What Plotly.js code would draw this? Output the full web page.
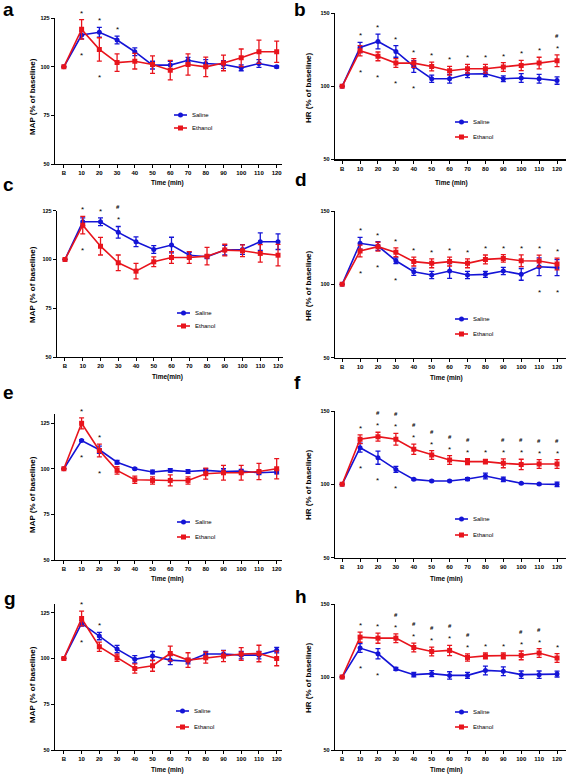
<!DOCTYPE html>
<html><head><meta charset="utf-8">
<script src="https://cdn.plot.ly/plotly-3.0.1.min.js"></script>
<style>html,body{margin:0;padding:0;background:#fff}#chart{width:567px;height:774px}</style>
</head><body><div id="chart"></div>
<script>
// ---------- shared categories ----------
const timeIdx = [0,1,2,3,4,5,6,7,8,9,10,11,12];
const timeLabels = ['B','10','20','30','40','50','60','70','80','90','100','110','120'];
const mapTicks = [50,75,100,125];
const hrTicks = [50,100,150];

// ---------- panel a (MAP) ----------
const salineA     = [100,116.4,117.8,113.8,107.8,100.9,100.9,103.4,101.7,101.2,99.5,101.7,100];
const salineErrA  = [0,2,2.5,2,2,2,2,1.5,2,2,1.5,2,0.5];
const ethanolA    = [100,119.3,109,102.2,102.9,101.2,98.3,101.2,100,102,104.7,107.8,107.8];
const ethanolErrA = [0,5,6,4.5,4,4.5,5,5.5,5,4,4.5,6,5.5];
const starsUpA = [1,2,3], starsDownA = [1,2], hashA = [];

// ---------- panel b (HR) ----------
const salineB     = [100,126.6,130.7,123.9,113.6,105.2,105.2,108.4,108.6,105.2,105.7,105.2,103.9];
const salineErrB  = [0,3.5,5,4,4,2.5,3,2.5,2,2,3,3,2.5];
const ethanolB    = [100,124.3,120.5,115.9,115.9,113.6,110.7,112,112,113.2,114.3,115.9,117.5];
const ethanolErrB = [0,3.5,3,3,3,3,3,3,3,3,3.5,4,4];
const starsUpB = [1,2,3,4,5,6,7,8,9,10,11,12], starsDownB = [1,2,3,4], hashB = [12];

// ---------- panel c (MAP) ----------
const salineC     = [100,119.3,119.3,113.9,109.1,105.1,107.4,102.2,101.4,104.8,105.1,109.1,109.1];
const salineErrC  = [0,2,2,3,2.5,2,4,1.5,1,2.5,2.5,4.5,4];
const ethanolC    = [100,117.6,106.8,98.3,94,98.8,101,101,101.7,104.8,104.5,103.1,102.2];
const ethanolErrC = [0,4.5,4.5,4,4,2.5,3,3,4.5,3,3,4.5,5.5];
const starsUpC = [1,2,3], starsDownC = [1], hashC = [3];

// ---------- panel d (HR) ----------
const salineD     = [100,128,126.1,116.1,108.6,106.4,109.1,106.4,106.8,109.1,106.8,112,111.4];
const salineErrD  = [0,4,3,2,2.5,2.5,5,2.5,2,2.5,4,6,5.5];
const ethanolD    = [100,122.7,125.7,121.8,115.5,114.3,115.5,114.3,117,117.7,116.1,115.9,113.9];
const ethanolErrD = [0,4,3,3,3,3,3,3,3,2.5,4,4,4];
const starsUpD = [1,2,3,4,5,6,7,8,9,10,11,12], starsDownD = [1,2,3,11,12], hashD = [];

// ---------- panel e (MAP) ----------
const salineE     = [100,115.5,110.4,103.6,100,98.2,99.1,98.5,99.1,98.5,98.7,97.8,98.2];
const salineErrE  = [0,0.5,2,1,0.5,1,1,1,1,1.5,1,1,1];
const ethanolE    = [100,124.9,110,99.1,94,93.6,93.6,93.6,97.3,97.8,97.8,98.5,100];
const ethanolErrE = [0,3,3.5,2,2,2,3,2,3,4,4,4.5,5.5];
const starsUpE = [1,2], starsDownE = [1,2], hashE = [];

// ---------- panel f (HR) ----------
const salineF     = [100,125,118.2,110.2,103.4,102.3,102.3,103.6,105.7,103.4,100.7,100.2,100];
const salineErrF  = [0,3,4.5,2,0.5,0.5,0.5,1,2,1.5,0.5,0.5,1.5];
const ethanolF    = [100,130.7,132.5,130.7,123.9,120,116.6,115.5,115.5,114.3,113.6,113.9,113.9];
const ethanolErrF = [0,3,3,4,3.5,3,3,2,1.5,3,3.5,3,3];
const starsUpF = [1,2,3,4,5,6,7,8,9,10,11,12], starsDownF = [1,2,3], hashF = [2,3,4,5,6,7,9,10,11,12];

// ---------- panel g (MAP) ----------
const salineG     = [100,119.1,112.2,105.1,99.5,101.3,99.1,98.5,102.4,102.4,101.8,101.8,104.5];
const salineErrG  = [0,1.5,2,2,2,2.5,2.5,1.5,1.5,2,2,2,1.5];
const ethanolG    = [100,121.8,106.4,100.4,94.5,96,102.7,99.1,100.4,101.3,102.4,102.7,100];
const ethanolErrG = [0,4,2.5,2,2.5,3,4,4,3,3,3.5,4.5,4];
const starsUpG = [1,2], starsDownG = [1], hashG = [];

// ---------- panel h (HR) ----------
const salineH     = [100,119.8,115.9,105.5,101.6,102.3,101.1,101.1,104.5,103.9,101.6,101.6,102];
const salineErrH  = [0,3,3.5,1,1.5,2,2.5,2,3,3,2.5,2.5,2];
const ethanolH    = [100,127.3,126.6,126.6,120.2,117.5,118.2,113.4,114.5,114.5,114.8,116.4,113];
const ethanolErrH = [0,3.5,3.5,3,3,3,3.5,2.5,2,2,3,3,3];
const starsUpH = [1,2,3,4,5,6,7,8,9,10,11,12], starsDownH = [1,2], hashH = [3,4,5,6,7,10,11];

const seriesNames = ['Saline','Ethanol'];
const mapTitle = 'MAP (% of baseline)';
const hrTitle = 'HR (% of baseline)';

// ---------- assembly ----------
const panels = [
  {letter:'a', s:salineA, se:salineErrA, e:ethanolA, ee:ethanolErrA, up:starsUpA, down:starsDownA, hash:hashA, ytitle:mapTitle, ticks:mapTicks, xtitle:'Time (min)'},
  {letter:'b', s:salineB, se:salineErrB, e:ethanolB, ee:ethanolErrB, up:starsUpB, down:starsDownB, hash:hashB, ytitle:hrTitle, ticks:hrTicks, xtitle:'Time (min)'},
  {letter:'c', s:salineC, se:salineErrC, e:ethanolC, ee:ethanolErrC, up:starsUpC, down:starsDownC, hash:hashC, ytitle:mapTitle, ticks:mapTicks, xtitle:'Time(min)'},
  {letter:'d', s:salineD, se:salineErrD, e:ethanolD, ee:ethanolErrD, up:starsUpD, down:starsDownD, hash:hashD, ytitle:hrTitle, ticks:hrTicks, xtitle:'Time (min)'},
  {letter:'e', s:salineE, se:salineErrE, e:ethanolE, ee:ethanolErrE, up:starsUpE, down:starsDownE, hash:hashE, ytitle:mapTitle, ticks:mapTicks, xtitle:'Time (min)'},
  {letter:'f', s:salineF, se:salineErrF, e:ethanolF, ee:ethanolErrF, up:starsUpF, down:starsDownF, hash:hashF, ytitle:hrTitle, ticks:hrTicks, xtitle:'Time (min)'},
  {letter:'g', s:salineG, se:salineErrG, e:ethanolG, ee:ethanolErrG, up:starsUpG, down:starsDownG, hash:hashG, ytitle:mapTitle, ticks:mapTicks, xtitle:'Time (min)'},
  {letter:'h', s:salineH, se:salineErrH, e:ethanolH, ee:ethanolErrH, up:starsUpH, down:starsDownH, hash:hashH, ytitle:hrTitle, ticks:hrTicks, xtitle:'Time (min)'}
];

// frame geometry in page pixels; leg = [line start x, saline row y, ethanol row y]
const W = 567, H = 774;
const frames = [
  {x:[55,282],  y:[18.3,164], yr:[50,125], xr:[-0.5,12.3],  leg:[174,115,128], yt:[32,97],  xt:[167,183], lt:[1,10]},
  {x:[335,566], y:[13.3,159.3], yr:[50,150], xr:[-0.4,12.5], leg:[455,122,137], yt:[308,88], xt:[451,183], lt:[292,9]},
  {x:[57,283],  y:[210.7,357], yr:[50,125], xr:[-0.45,12.28], leg:[177,313,326], yt:[32,285], xt:[167,377], lt:[1,184]},
  {x:[335,566], y:[211,357.7], yr:[50,150], xr:[-0.4,12.5], leg:[455,319,334], yt:[308,286], xt:[446,378], lt:[293,180]},
  {x:[55,282],  y:[414,560],  yr:[50,130], xr:[-0.5,12.3],  leg:[177,522,537], yt:[32,495], xt:[167,579], lt:[1,392]},
  {x:[335,566], y:[411,557.7], yr:[50,150], xr:[-0.4,12.5], leg:[455,519,535], yt:[308,485], xt:[446,579], lt:[292,382]},
  {x:[55,282],  y:[603.5,750], yr:[50,130], xr:[-0.5,12.3], leg:[176,711,727], yt:[32,685], xt:[167,770], lt:[2,598]},
  {x:[335,566], y:[604,750],  yr:[50,150], xr:[-0.4,12.5], leg:[455,712,727], yt:[308,678], xt:[446,770], lt:[293,596]}
];

const BLUE = '#1414d6', RED = '#e8141c';
const FONT = 'Liberation Sans, Arial, sans-serif';
const px = v => v / W, py = v => 1 - v / H;

const traces = [], annotations = [], shapes = [];
const layout = {
  width: W, height: H, margin:{l:0,r:0,t:0,b:0},
  paper_bgcolor:'#fff', plot_bgcolor:'rgba(0,0,0,0)',
  font:{family:FONT, color:'#000'},
  showlegend:false, annotations, shapes
};

panels.forEach((p, i) => {
  const f = frames[i];
  const sfx = i === 0 ? '' : String(i + 1);
  const xa = 'x' + sfx, ya = 'y' + sfx;
  layout['xaxis' + sfx] = {
    domain:[px(f.x[0]), px(f.x[1])], range:f.xr, anchor:ya,
    tickmode:'array', tickvals:timeIdx, ticktext:timeLabels,
    showline:true, linecolor:'#000', linewidth:1.2, ticks:'outside', ticklen:3, tickwidth:1, tickcolor:'#000',
    tickfont:{size:6, family:FONT, weight:'bold'}, showgrid:false, zeroline:false, fixedrange:true
  };
  layout['yaxis' + sfx] = {
    domain:[py(f.y[1]), py(f.y[0])], range:f.yr, anchor:xa,
    tickmode:'array', tickvals:p.ticks,
    showline:true, linecolor:'#000', linewidth:1.2, ticks:'outside', ticklen:3, tickwidth:1, tickcolor:'#000',
    tickfont:{size:5.5, family:FONT, weight:'bold'}, showgrid:false, zeroline:false, fixedrange:true
  };
  const specs = [[p.s, p.se, BLUE, 'circle', seriesNames[0], f.leg[1]], [p.e, p.ee, RED, 'square', seriesNames[1], f.leg[2]]];
  specs.forEach(([vals, errs, col, sym, nm, ly]) => {
    traces.push({
      type:'scatter', mode:'lines+markers', name:nm, x:timeIdx, y:vals,
      xaxis:xa, yaxis:ya,
      line:{color:col, width:1.6}, marker:{color:col, symbol:sym, size:5},
      error_y:{type:'data', array:errs, visible:true, color:col, thickness:1.3, width:2.5}
    });
    // legend entry (line + marker + label)
    const x0 = f.leg[0], x1 = f.leg[0] + 13, xm = (x0 + x1) / 2;
    shapes.push({type:'line', xref:'paper', yref:'paper', x0:px(x0), x1:px(x1), y0:py(ly), y1:py(ly), line:{color:col, width:1.6}});
    shapes.push({type: sym === 'circle' ? 'circle' : 'rect', xref:'paper', yref:'paper',
      x0:px(xm - 2.5), x1:px(xm + 2.5), y0:py(ly + 2.5), y1:py(ly - 2.5), fillcolor:col, line:{color:col, width:0}});
    annotations.push({xref:'paper', yref:'paper', x:px(x1 + 3), y:py(ly), text:nm, showarrow:false, xanchor:'left', yanchor:'middle', font:{size:6, family:FONT}});
  });
  // significance markers
  const hi = k => Math.max(p.s[k] + p.se[k], p.e[k] + p.ee[k]);
  const lo = k => Math.min(p.s[k] - p.se[k], p.e[k] - p.ee[k]);
  p.up.forEach(k => annotations.push({xref:xa, yref:ya, x:k, y:hi(k), text:'*', showarrow:false, yanchor:'bottom', yshift:0, font:{size:8, family:FONT}}));
  p.down.forEach(k => annotations.push({xref:xa, yref:ya, x:k, y:lo(k), text:'*', showarrow:false, yanchor:'top', yshift:-10, font:{size:8, family:FONT}}));
  p.hash.forEach(k => annotations.push({xref:xa, yref:ya, x:k, y:hi(k), text:'#', showarrow:false, yanchor:'bottom', yshift:14, font:{size:6, family:FONT, weight:'bold'}}));
  // titles and panel letter
  annotations.push({xref:'paper', yref:'paper', x:px(f.yt[0]), y:py(f.yt[1]), text:p.ytitle, textangle:-90, showarrow:false, xanchor:'center', yanchor:'middle', font:{size:8, family:FONT, weight:'bold'}});
  annotations.push({xref:'paper', yref:'paper', x:px(f.xt[0]), y:py(f.xt[1]), text:p.xtitle, showarrow:false, xanchor:'center', yanchor:'middle', font:{size:6.5, family:FONT, weight:'bold'}});
  annotations.push({xref:'paper', yref:'paper', x:px(f.lt[0]), y:py(f.lt[1]), text:p.letter, showarrow:false, xanchor:'left', yanchor:'middle', font:{size:19, family:FONT, weight:'bold'}});
});

Plotly.newPlot('chart', traces, layout, {displayModeBar:false, staticPlot:true});
</script></body></html>
